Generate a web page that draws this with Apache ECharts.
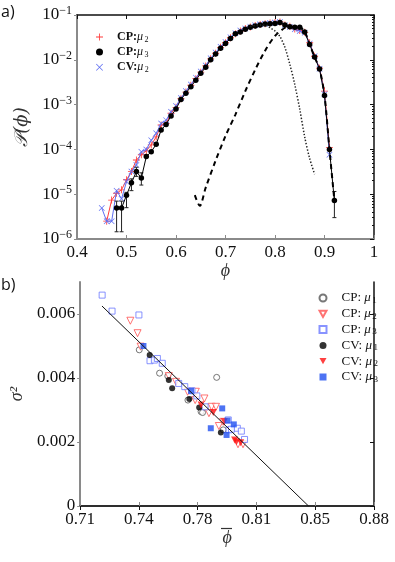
<!DOCTYPE html>
<html><head><meta charset="utf-8">
<script src="https://cdn.jsdelivr.net/npm/echarts@6/dist/echarts.min.js"></script>
<style>html,body{margin:0;padding:0;background:#fff}#c{width:395px;height:562px}</style>
</head><body><div id="c"></div>
<script>
// ---------- panel a) : P(phi) ----------
const phiCP2 = [0.46,0.47,0.48,0.49,0.50,0.51,0.52,0.53,0.54,0.55,0.56,0.57,0.58,0.59,0.60,
  0.61,0.62,0.63,0.64,0.65,0.66,0.67,0.68,0.69,0.70,0.71,0.72,0.73,0.74,0.75,0.76,0.77,0.78,0.79,0.80,
  0.81,0.82,0.83,0.84,0.85,0.86,0.87,0.88,0.89,0.90,0.91];
const probCP2 = [2.5e-6,7.4e-6,1.05e-5,1.25e-5,2.1e-5,3.2e-5,5.8e-5,7.6e-5,9.3e-5,1.26e-4,1.9e-4,3.5e-4,3.8e-4,6.4e-4,8.7e-4,
  1.35e-3,1.9e-3,2.7e-3,3.8e-3,5.3e-3,7.3e-3,1.05e-2,1.4e-2,1.9e-2,2.4e-2,3.1e-2,3.8e-2,4.4e-2,5.0e-2,5.4e-2,5.8e-2,6.1e-2,6.4e-2,6.6e-2,6.8e-2,
  7.0e-2,6.0e-2,5.6e-2,4.9e-2,4.5e-2,4.1e-2,2.4e-2,1.2e-2,6.5e-3,2.0e-3,1.1e-4];
const phiCP3 = [0.48,0.49,0.50,0.51,0.52,0.53,0.54,0.55,0.56,0.57,0.58,0.59,0.60,
  0.61,0.62,0.63,0.64,0.65,0.66,0.67,0.68,0.69,0.70,0.71,0.72,0.73,0.74,0.75,0.76,0.77,0.78,0.79,0.80,
  0.81,0.82,0.83,0.84,0.85,0.86,0.87,0.88,0.89,0.90,0.91,0.92];
const probCP3 = [4.9e-6,4.9e-6,9.5e-6,1.8e-5,3.2e-5,2.3e-5,6.9e-5,8.9e-5,1.3e-4,2.7e-4,3.6e-4,5.6e-4,8.0e-4,
  1.3e-3,1.8e-3,2.5e-3,3.5e-3,5.0e-3,6.8e-3,1.0e-2,1.35e-2,1.8e-2,2.3e-2,3.0e-2,3.8e-2,4.2e-2,4.8e-2,5.3e-2,5.7e-2,6.0e-2,6.3e-2,6.4e-2,6.5e-2,
  6.8e-2,6.0e-2,5.5e-2,5.3e-2,5.3e-2,4.2e-2,2.2e-2,1.15e-2,6.2e-3,1.6e-3,1.0e-4,7.2e-6];
const phiCV2 = [0.45,0.46,0.47,0.48,0.49,0.50,0.51,0.52,0.53,0.54,0.55,0.56,0.57,0.58,0.59,0.60,
  0.61,0.62,0.63,0.64,0.65,0.66,0.67,0.68,0.69,0.70,0.71,0.72,0.73,0.74,0.75,0.76,0.77,0.78,0.79,0.80,
  0.81,0.82,0.83,0.84,0.85,0.86,0.87,0.88,0.89,0.90,0.91];
const probCV2 = [4.9e-6,2.5e-6,2.5e-6,1.2e-5,7.9e-6,1.9e-5,3.2e-5,4.5e-5,8.9e-5,1.0e-4,1.6e-4,2.3e-4,3.8e-4,4.5e-4,6.9e-4,9.3e-4,
  1.4e-3,2.0e-3,2.8e-3,4.0e-3,5.5e-3,7.5e-3,1.08e-2,1.45e-2,1.95e-2,2.5e-2,3.2e-2,3.9e-2,4.5e-2,5.0e-2,5.5e-2,5.9e-2,6.2e-2,6.4e-2,6.6e-2,6.8e-2,
  7.0e-2,5.9e-2,5.4e-2,4.8e-2,4.4e-2,4.0e-2,2.3e-2,1.2e-2,6.3e-3,1.7e-3,7.6e-5];
// error bars on CP:mu3  [phi, low, high]
const errPhi  = [0.48,0.49,0.50,0.51,0.52,0.53,0.92];
const errLow  = [1.45e-6,1.45e-6,5.0e-6,1.2e-5,2.5e-5,1.6e-5,3.0e-6];
const errHigh = [7.0e-6,7.0e-6,1.1e-5,2.2e-5,4.0e-5,3.0e-5,1.15e-5];
// dashed and dotted reference curves
const phiDash = [0.638,0.648,0.66,0.68,0.70,0.72,0.74,0.76,0.78,0.80,0.82,0.83,0.84,0.85,0.86,0.87,0.88,0.89,0.90,0.91,0.92];
const probDash = [9.5e-6,5.5e-6,1.4e-5,5.6e-5,2.0e-4,6.0e-4,2.0e-3,6.0e-3,1.6e-2,3.4e-2,5.2e-2,5.5e-2,5.3e-2,5.3e-2,4.2e-2,2.2e-2,1.15e-2,6.2e-3,1.6e-3,1.0e-4,7.2e-6];
const phiDot = [0.75,0.77,0.78,0.79,0.80,0.81,0.82,0.83,0.84,0.85,0.86,0.87,0.88];
const probDot = [5.6e-2,6.0e-2,6.0e-2,5.2e-2,4.4e-2,3.3e-2,1.9e-2,7.9e-3,2.8e-3,7.9e-4,1.9e-4,6.3e-5,2.8e-5];
const majorLog = [1e-6,1e-5,1e-4,1e-3,1e-2,1e-1];

// ---------- panel b) : sigma^2 vs mean phi ----------
const cp1 = [[0.7452,0.00488],[0.7573,0.00415],[0.7622,0.00406],[0.7742,0.00331],[0.782,0.00295],[0.7829,0.00292],[0.7913,0.00402],[0.7952,0.00238]];
const cp2 = [[0.7399,0.00579],[0.7442,0.0054],[0.746,0.00498],[0.7628,0.00406],[0.7671,0.00388],[0.774,0.00357],[0.7789,0.00357],[0.7785,0.00331],
  [0.784,0.00336],[0.7867,0.0029],[0.7883,0.0031],[0.7909,0.0031],[0.7926,0.0025],[0.7952,0.00263],[0.804,0.00193],[0.807,0.00193]];
const cp3 = [[0.7231,0.00659],[0.729,0.00609],[0.745,0.00597],[0.7516,0.00454],[0.7542,0.00456],[0.756,0.00461],[0.7589,0.00446],[0.7687,0.00383],
  [0.7723,0.00373],[0.7766,0.0036],[0.7795,0.00344],[0.7844,0.0031],[0.7982,0.00269],[0.7987,0.00238],[0.8001,0.0024],[0.8036,0.00243],[0.806,0.00234],[0.8079,0.00208]];
const cv1 = [[0.7514,0.00472],[0.7628,0.00394],[0.7648,0.00368],[0.775,0.00334],[0.7809,0.00308],[0.7938,0.0023]];
const cv2 = [[0.782,0.00316],[0.7893,0.00292],[0.7958,0.00263],[0.802,0.00206],[0.8031,0.00201],[0.8056,0.00198]];
const cv3 = [[0.7477,0.0050],[0.7761,0.0036],[0.7946,0.00305],[0.7878,0.00243],[0.7978,0.00267],[0.8015,0.00255],[0.7972,0.00222]];
const fitLine = [[0.723,0.00625],[0.846,0]];
const xTickValsB = [0.71,0.745,0.78,0.815,0.85,0.885];
const xTickLabelsB = ['0.71','0.74','0.78','0.81','0.85','0.88'];
const yTickValsB = [0,0.002,0.004,0.006];

// ---------- chart ----------
const zip = (a,b) => a.map((v,i)=>[v,b[i]]);
const minorLog = [];
for (let e=-6;e<=-2;e++) for (let k=2;k<=9;k++) minorLog.push(k*Math.pow(10,e));

const SERIF = '"Liberation Serif","DejaVu Serif",serif';
const PLUS = 'path://M0,4.4H10V5.6H0Z M4.4,0H5.6V10H4.4Z';
const CROSS = 'path://M0,0.8L0.8,0L10,9.2L9.2,10Z M9.2,0L10,0.8L0.8,10L0,9.2Z';
const TRIDOWN = 'path://M0,0L10,0L5,9Z';
const RED = '#ff3b3b', BLUE = '#5f6ff2';
const GRAY = '#8a8a8a';

const chart = echarts.init(document.getElementById('c'), null, {renderer:'canvas'});

const subRich = {
  t:{fontFamily:SERIF,fontSize:12,fontWeight:'bold',color:'#111',lineHeight:13},
  m:{fontFamily:SERIF,fontSize:12,fontStyle:'italic',color:'#111',lineHeight:13},
  s:{fontFamily:SERIF,fontSize:8,color:'#111',verticalAlign:'bottom',lineHeight:8,padding:[0,0,0,1.5]}
};
const subRichB = {
  t:{fontFamily:SERIF,fontSize:13,color:'#111',lineHeight:14},
  m:{fontFamily:SERIF,fontSize:13,fontStyle:'italic',color:'#111',lineHeight:14},
  s:{fontFamily:SERIF,fontSize:9,color:'#111',verticalAlign:'bottom',lineHeight:9,padding:[0,0,0,1.5]}
};
function legendFmt(name){
  const m = name.match(/^(CP|CV):( ?)μ(\d)$/);
  return '{t|'+m[1]+':'+m[2]+'}{m|μ}{s|'+m[3]+'}';
}

const baseAxisLabel = {fontFamily:SERIF,fontSize:17,color:'#111'};

const option = {
  animation:false,
  backgroundColor:'#fff',
  grid:[
    {left:77, top:15, width:297, height:224},
    {left:77, top:282, width:297, height:224}
  ],
  graphic:[
    {type:'text', left:1, top:4, style:{text:'a)', font:'16px "Open Sans", sans-serif', fill:'#111'}},
    {type:'text', left:1, top:277, style:{text:'b)', font:'16px "Open Sans", sans-serif', fill:'#111'}},
    {type:'line', shape:{x1:221,y1:528.5,x2:232,y2:528.5}, style:{stroke:'#333',lineWidth:1.2}}
  ],
  legend:[
    {orient:'vertical', left:91, top:26, itemWidth:7, itemHeight:7, itemGap:2.6,
     data:[{name:'CP:μ2',icon:PLUS},{name:'CP:μ3',icon:'circle'},{name:'CV:μ2',icon:CROSS}],
     formatter:legendFmt, textStyle:{rich:subRich, padding:[0,0,0,9]}},
    {orient:'vertical', left:313.5, top:286.5, itemWidth:7, itemHeight:7, itemGap:2.3,
     data:[{name:'CP: μ1',icon:'circle'},{name:'CP: μ2',icon:TRIDOWN},{name:'CP: μ3',icon:'rect'},
           {name:'CV: μ1',icon:'circle'},{name:'CV: μ2',icon:TRIDOWN},{name:'CV: μ3',icon:'rect'}],
     formatter:legendFmt, textStyle:{rich:subRichB, padding:[0,0,0,10]}}
  ],
  xAxis:[
    {gridIndex:0, type:'value', position:'bottom', min:0.4, max:1, interval:0.1,
     axisLine:{lineStyle:{color:GRAY,width:2}}, axisTick:{inside:true,length:4,lineStyle:{color:GRAY}},
     splitLine:{show:false},
     axisLabel:Object.assign({margin:5, formatter:v=>String(Math.round(v*10)/10)},baseAxisLabel),
     name:'ϕ', nameLocation:'middle', nameGap:12,
     nameTextStyle:{fontFamily:SERIF,fontSize:18,fontStyle:'italic',color:'#333'}},
    {gridIndex:0, type:'value', position:'top', min:0.4, max:1, interval:0.1,
     axisLine:{lineStyle:{color:'#111',width:1.5}}, axisTick:{inside:true,length:4,lineStyle:{color:'#111'}},
     axisLabel:{show:false}, splitLine:{show:false}},
    {gridIndex:1, type:'value', position:'bottom', min:0.71, max:0.885,
     axisLine:{lineStyle:{color:GRAY,width:2}},
     axisTick:{inside:true,length:4,customValues:xTickValsB,lineStyle:{color:GRAY}},
     splitLine:{show:false},
     axisLabel:Object.assign({margin:5, customValues:xTickValsB,
       formatter:v=>{let bi=0;xTickValsB.forEach((t,i)=>{if(Math.abs(t-v)<Math.abs(xTickValsB[bi]-v))bi=i;});return xTickLabelsB[bi];}},baseAxisLabel),
     name:'ϕ', nameLocation:'middle', nameGap:15,
     nameTextStyle:{fontFamily:SERIF,fontSize:18,fontStyle:'italic',color:'#333'}},
    {gridIndex:1, type:'value', position:'top', min:0.71, max:0.885,
     axisLine:{lineStyle:{color:'#111',width:1.5}},
     axisTick:{inside:true,length:4,customValues:xTickValsB,lineStyle:{color:'#111'}},
     axisLabel:{show:false}, splitLine:{show:false}}
  ],
  yAxis:[
    {gridIndex:0, type:'log', position:'left', min:1e-6, max:1e-1, logBase:10,
     axisLine:{show:true,lineStyle:{color:GRAY,width:2}},
     axisTick:{show:true,inside:false,length:3,customValues:majorLog,lineStyle:{color:GRAY}},
     splitLine:{show:false},
     axisLabel:{margin:5, customValues:majorLog,
       formatter:v=>'{b|10}{s|−'+Math.round(-Math.log10(v))+'}',
       rich:{b:{fontFamily:SERIF,fontSize:17,color:'#111'},s:{fontFamily:SERIF,fontSize:12,color:'#111',verticalAlign:'top',padding:[0,0,8,0]}}},
     name:'𝒫(ϕ)', nameLocation:'middle', nameGap:40,
     nameTextStyle:{fontFamily:'"DejaVu Serif",serif',fontSize:18,fontStyle:'italic',color:'#333'}},
    {gridIndex:0, type:'log', position:'right', min:1e-6, max:1e-1, logBase:10,
     axisLine:{show:true,lineStyle:{color:'#111',width:1.5}},
     axisTick:{show:true,inside:true,length:4,customValues:majorLog,lineStyle:{color:'#111'}},
     axisLabel:{show:false}, splitLine:{show:false}},
    {gridIndex:0, type:'log', position:'right', min:1e-6, max:1e-1, logBase:10,
     axisLine:{show:false},
     axisTick:{show:true,inside:true,length:2,customValues:minorLog,lineStyle:{color:'#111'}},
     axisLabel:{show:false}, splitLine:{show:false}},
    {gridIndex:1, type:'value', position:'left', min:0, max:0.007,
     axisLine:{show:true,lineStyle:{color:GRAY,width:2}},
     axisTick:{show:true,inside:false,length:3,customValues:yTickValsB,lineStyle:{color:GRAY}},
     splitLine:{show:false},
     axisLabel:Object.assign({margin:5, customValues:yTickValsB, formatter:v=>v===0?'0':v.toFixed(3)},baseAxisLabel),
     name:'σ²', nameLocation:'middle', nameGap:50,
     nameTextStyle:{fontFamily:SERIF,fontSize:18,fontStyle:'italic',color:'#333'}},
    {gridIndex:1, type:'value', position:'right', min:0, max:0.007,
     axisLine:{show:true,lineStyle:{color:'#111',width:1.5}},
     axisTick:{show:true,inside:true,length:4,customValues:yTickValsB,lineStyle:{color:'#111'}},
     axisLabel:{show:false}, splitLine:{show:false}}
  ],
  series:[
    {name:'CP:μ2', type:'line', xAxisIndex:0, yAxisIndex:0, data:zip(phiCP2,probCP2),
     symbol:PLUS, symbolSize:7, lineStyle:{color:RED,width:1}, itemStyle:{color:RED}, z:3},
    {name:'CV:μ2', type:'line', xAxisIndex:0, yAxisIndex:0, data:zip(phiCV2,probCV2),
     symbol:CROSS, symbolSize:6, lineStyle:{color:BLUE,width:1}, itemStyle:{color:BLUE}, z:4},
    {name:'errbars', type:'custom', xAxisIndex:0, yAxisIndex:0, z:5,
     data:errPhi.map((p,i)=>[p,errLow[i],errHigh[i]]), encode:{x:0,y:[1,2]},
     renderItem:(params,api)=>{
       const a=api.coord([api.value(0),api.value(1)]), b=api.coord([api.value(0),api.value(2)]);
       const st={stroke:'#222',lineWidth:1};
       return {type:'group',children:[
         {type:'line',shape:{x1:a[0],y1:a[1],x2:b[0],y2:b[1]},style:st},
         {type:'line',shape:{x1:a[0]-2,y1:a[1],x2:a[0]+2,y2:a[1]},style:st},
         {type:'line',shape:{x1:b[0]-2,y1:b[1],x2:b[0]+2,y2:b[1]},style:st}]};
     }},
    {name:'CP:μ3', type:'line', xAxisIndex:0, yAxisIndex:0, data:zip(phiCP3,probCP3),
     symbol:'circle', symbolSize:5.5, lineStyle:{color:'#000',width:1}, itemStyle:{color:'#000'}, z:6},
    {name:'dash', type:'line', xAxisIndex:0, yAxisIndex:0, data:zip(phiDash,probDash), smooth:0.3,
     symbol:'none', lineStyle:{color:'#000',width:2,type:[5,4]}, z:7},
    {name:'dot', type:'line', xAxisIndex:0, yAxisIndex:0, data:zip(phiDot,probDot), smooth:0.3,
     symbol:'none', lineStyle:{color:'#222',width:1.5,type:[1.4,1.8]}, z:7},

    {name:'fit', type:'line', xAxisIndex:2, yAxisIndex:3, data:fitLine, symbol:'none',
     lineStyle:{color:'#111',width:1}, z:8},
    {name:'CP: μ1', type:'scatter', xAxisIndex:2, yAxisIndex:3, data:cp1, symbol:'circle', symbolSize:6,
     itemStyle:{color:'#fff',borderColor:'#555',borderWidth:1}},
    {name:'CP: μ2', type:'scatter', xAxisIndex:2, yAxisIndex:3, data:cp2, symbol:TRIDOWN, symbolSize:7,
     itemStyle:{color:'#fff',borderColor:'#ff5050',borderWidth:1}},
    {name:'CP: μ3', type:'scatter', xAxisIndex:2, yAxisIndex:3, data:cp3, symbol:'rect', symbolSize:6,
     itemStyle:{color:'#fff',borderColor:'#6a78ff',borderWidth:1}},
    {name:'CV: μ1', type:'scatter', xAxisIndex:2, yAxisIndex:3, data:cv1, symbol:'circle', symbolSize:6,
     itemStyle:{color:'#000'}},
    {name:'CV: μ2', type:'scatter', xAxisIndex:2, yAxisIndex:3, data:cv2, symbol:TRIDOWN, symbolSize:7,
     itemStyle:{color:'#ff1010'}},
    {name:'CV: μ3', type:'scatter', xAxisIndex:2, yAxisIndex:3, data:cv3, symbol:'rect', symbolSize:6,
     itemStyle:{color:'#2050f0'}}
  ]
};
chart.setOption(option);
</script>
</body></html>
